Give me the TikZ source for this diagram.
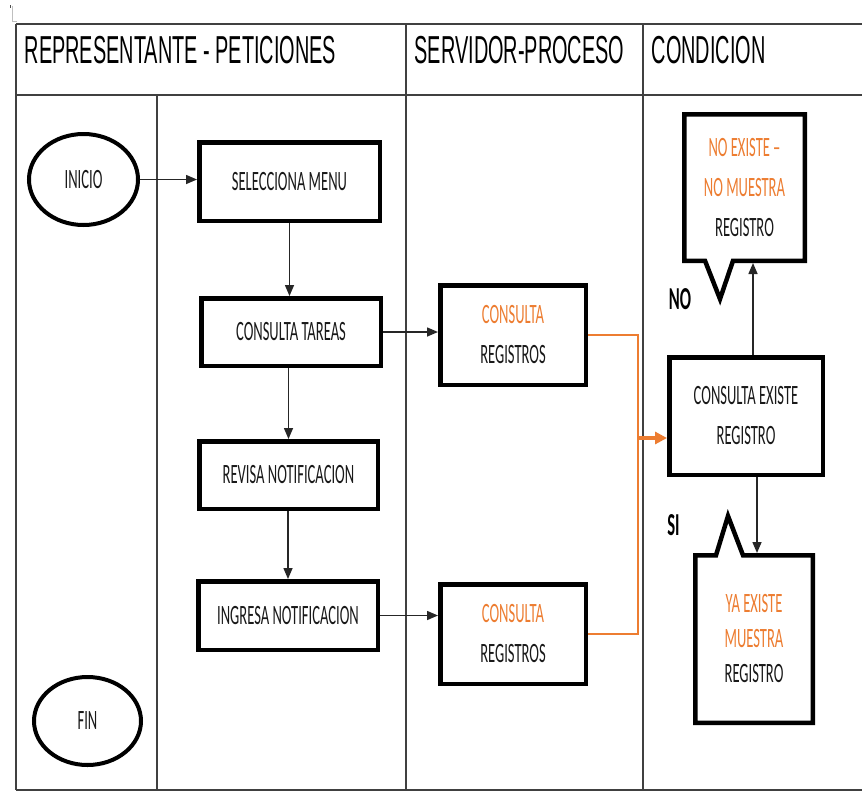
\documentclass[tikz,border=0pt]{standalone}
\usepackage{fontspec}
\usetikzlibrary{shapes.geometric,arrows.meta}
\newfontfamily\boxfont[FakeStretch=0.52]{Carlito}
\newfontfamily\headfont[FakeStretch=0.51]{Liberation Sans}
\definecolor{orng}{HTML}{ED7D31}
\definecolor{gridc}{HTML}{404040}
\begin{document}
\begin{tikzpicture}[x=1pt,y=-1pt,
  grid/.style={draw=gridc,line width=1.2pt},
  hgrid/.style={draw=gridc,line width=1.8pt},
  procbox/.style={draw=black,line width=4.5pt,rectangle,inner sep=0pt,align=center,text=black!90,font=\boxfont\fontsize{28}{40}\selectfont},
  term/.style={draw=black,line width=4pt,ellipse,inner sep=0pt,text=black!90,font=\boxfont\fontsize{28}{34}\selectfont},
  callout/.style={rectangle,inner sep=0pt,outer sep=0pt,align=center,text=black!90},
  calloutline/.style={draw=black,line width=4.5pt,line join=miter},
  header/.style={font=\headfont\fontsize{39}{44}\selectfont,anchor=base west,inner sep=0pt},
  arr/.style={draw=black!85,line width=1.5pt,-{Triangle[length=11pt,width=9pt]}},
  oline/.style={draw=orng,line width=1.6pt},
  oarr/.style={draw=orng,line width=3.5pt,-{Triangle[length=12pt,width=12pt]}},
  lbl/.style={font=\boxfont\bfseries\fontsize{32}{36}\selectfont,inner sep=0pt}
]
\useasboundingbox (0,0) rectangle (862,809);
\fill[white] (0,0) rectangle (862,809);

% tiny corner mark
\draw[gray!50,line width=1pt] (12,6) -- (12,21) -- (17,21);
\draw[black!70,line width=1pt] (10.5,5) -- (10.5,8);

% table
\draw[hgrid] (16,24) -- (862,24);
\draw[hgrid] (16,95) -- (862,95);
\draw[hgrid] (16,790) -- (862,790);
\draw[grid] (16,24) -- (16,790);
\draw[grid] (406,24) -- (406,790);
\draw[grid] (643,24) -- (643,790);
\draw[grid] (157,95) -- (157,790);

% headers
\node[header] (h1) at (24.5,63) {REPRESENTANTE - PETICIONES};
\node[header] (h2) at (414.5,63) {SERVIDOR-PROCESO};
\node[header] (h3) at (651.5,63) {CONDICION};

% terminals
\node[term,minimum width=109pt,minimum height=91pt] (inicio) at (83.5,179.5) {INICIO};
\node[term,minimum width=107pt,minimum height=88pt] (fin) at (87.5,721) {FIN};

% process boxes
\node[procbox,minimum width=180.5pt,minimum height=78.5pt] (sm) at (289.5,181.5) {SELECCIONA MENU};
\node[procbox,minimum width=179.5pt,minimum height=67.5pt] (ct) at (291,332) {CONSULTA TAREAS};
\node[procbox,minimum width=178.5pt,minimum height=67.5pt] (rn) at (288.5,475) {REVISA NOTIFICACION};
\node[procbox,minimum width=179.5pt,minimum height=68.5pt] (ing) at (288,615.5) {INGRESA NOTIFICACION};
\node[procbox,minimum width=145.5pt,minimum height=99.5pt] (cr1) at (513,335) {\textcolor{orng}{CONSULTA}\\REGISTROS};
\node[procbox,minimum width=145.5pt,minimum height=99.5pt] (cr2) at (513,634) {\textcolor{orng}{CONSULTA}\\REGISTROS};
\node[procbox,minimum width=153.5pt,minimum height=117.5pt] (ce) at (746,416) {CONSULTA EXISTE\\REGISTRO};

% callouts
\node[callout,font=\boxfont\fontsize{28}{40}\selectfont,minimum width=120.5pt,minimum height=146.5pt] (no) at (744.5,187.5)
  {\textcolor{orng}{NO EXISTE –}\\\textcolor{orng}{NO MUESTRA}\\REGISTRO};
\coordinate (notip) at (720,299);
\draw[calloutline] (no.north west) -- (no.north east) -- (no.south east) -- (733,260.75) -- (notip) -- (705,260.75) -- (no.south west) -- cycle;

\node[callout,font=\boxfont\fontsize{28}{35}\selectfont,minimum width=117.5pt,minimum height=167.5pt] (si) at (754,639)
  {\textcolor{orng}{YA EXISTE}\\\textcolor{orng}{MUESTRA}\\REGISTRO};
\coordinate (sitip) at (728,516);
\draw[calloutline] (si.north west) -- (716,555.25) -- (sitip) -- (743,555.25) -- (si.north east) -- (si.south east) -- (si.south west) -- cycle;

% labels
\node[lbl] (nolbl) at (680,299) {NO};
\node[lbl] (silbl) at (673.5,525.5) {SI};

% connectors
\draw[arr] (inicio.east) -- (inicio.east -| sm.west);
\draw[arr] (sm.south) -- (sm.south |- ct.north);
\draw[arr] (rn.north |- ct.south) -- (rn.north);
\draw[arr] (ing.north |- rn.south) -- (ing.north);
\draw[arr] (ct.east) -- (ct.east -| cr1.west);
\draw[arr] (ing.east) -- (ing.east -| cr2.west);

\coordinate (bus) at (638,438);
\draw[oline] (cr1.east) -| (bus);
\draw[oline] (cr2.east) -| (bus);
\draw[oarr] (bus) -- (bus -| ce.west);

\draw[arr,shorten >=2.25pt] ([xshift=7pt]ce.north) -- ([xshift=7pt]ce.north |- no.south);
\draw[arr,shorten >=2.25pt] ([xshift=11pt]ce.south) -- ([xshift=11pt]ce.south |- si.north);
\end{tikzpicture}
\end{document}
